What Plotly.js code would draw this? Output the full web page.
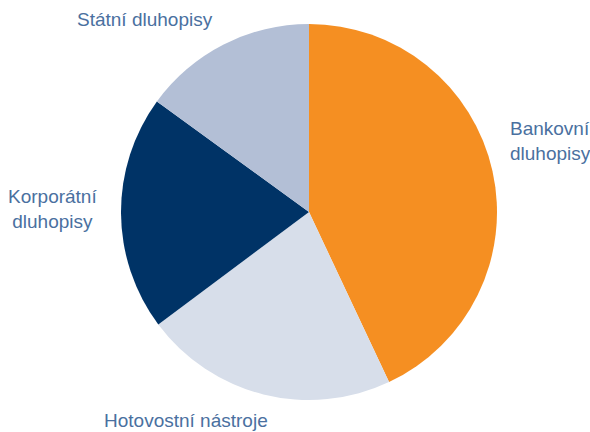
<!DOCTYPE html>
<html><head><meta charset="utf-8">
<script src="https://cdn.plot.ly/plotly-3.0.1.min.js"></script>
<style>html,body{margin:0;padding:0;background:#fff;}</style>
</head><body>
<div id="chart" style="width:590px;height:432px;"></div>
<script>
const categories = ["Bankovní dluhopisy", "Hotovostní nástroje", "Korporátní dluhopisy", "Státní dluhopisy"];
const values = [43, 21.8, 20.2, 15];
const colors = ["#F58F22", "#D7DEEA", "#003366", "#B3BFD6"];
const labelText = ["Bankovní<br>dluhopisy", "Hotovostní nástroje", "Korporátní<br>dluhopisy", "Státní dluhopisy"];

const font = {family: "Liberation Sans, Arial, sans-serif", size: 19, color: "#4A70A0"};
const ann = [
  {x: 508/590, y: 1 - 141/432, xanchor: "left", align: "left"},
  {x: 186/590, y: 1 - 420/432, xanchor: "center", align: "center"},
  {x: 99/590, y: 1 - 209/432, xanchor: "right", align: "center"},
  {x: 145/590, y: 1 - 20/432, xanchor: "center", align: "center"}
].map((a, i) => Object.assign({xref: "paper", yref: "paper", yanchor: "middle", showarrow: false, text: labelText[i], font: font}, a));

Plotly.newPlot("chart", [{
  type: "pie",
  labels: categories,
  values: values,
  marker: {colors: colors, line: {width: 0}},
  sort: false,
  direction: "clockwise",
  rotation: 0,
  textinfo: "none",
  hoverinfo: "label+percent",
  domain: {x: [121/590, 497/590], y: [(220-188)/432, (220+188)/432]}
}], {
  width: 590, height: 432,
  margin: {l: 0, r: 0, t: 0, b: 0},
  showlegend: false,
  paper_bgcolor: "#fff",
  annotations: ann
}, {displayModeBar: false, staticPlot: true});
</script>
</body></html>
